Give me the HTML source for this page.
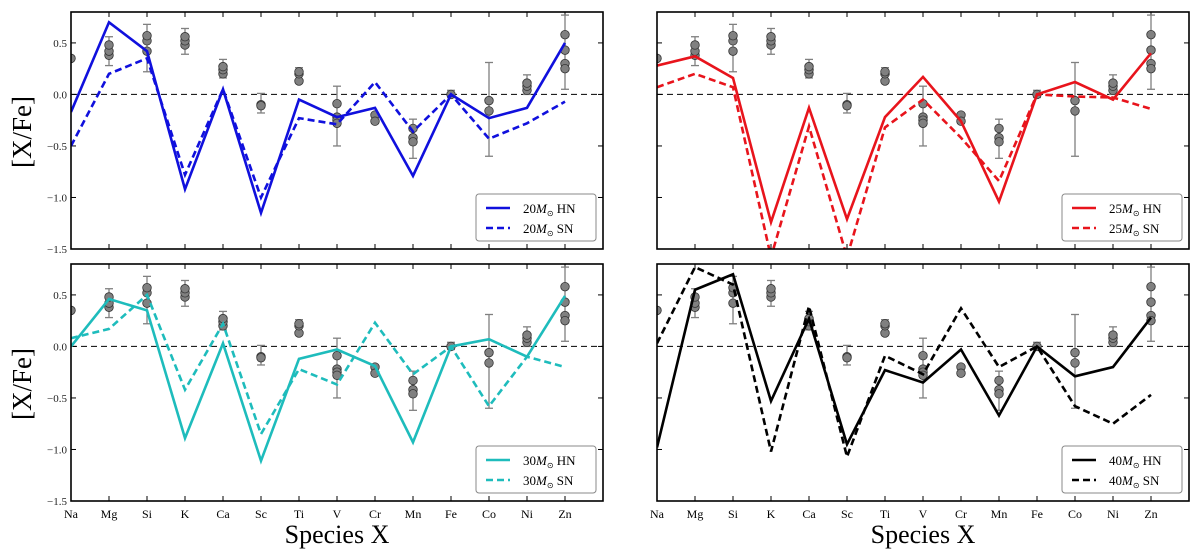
<!DOCTYPE html>
<html><head><meta charset="utf-8"><style>
body{margin:0;background:#fff;width:1200px;height:557px;overflow:hidden}
svg{display:block;font-family:"Liberation Serif",serif}
</style></head><body>
<svg id="fig" width="1200" height="557" xmlns="http://www.w3.org/2000/svg"></svg>
<script>
const species=["Na","Mg","Si","K","Ca","Sc","Ti","V","Cr","Mn","Fe","Co","Ni","Zn"];
const yTicks=[0.5,0.0,-0.5,-1.0,-1.5];
const yTickLabels=["0.5","0.0","\u22120.5","\u22121.0","\u22121.5"];
const hn20=[-0.17,0.7,0.42,-0.92,0.05,-1.15,-0.05,-0.22,-0.13,-0.79,0.0,-0.23,-0.13,0.5];
const sn20=[-0.5,0.2,0.35,-0.78,0.05,-1.0,-0.23,-0.29,0.12,-0.36,0.0,-0.43,-0.28,-0.07];
const hn25=[0.28,0.37,0.16,-1.24,-0.13,-1.21,-0.22,0.17,-0.26,-1.04,0.0,0.12,-0.05,0.4];
const sn25=[0.07,0.2,0.07,-1.58,-0.31,-1.58,-0.32,-0.05,-0.42,-0.84,0.0,-0.02,-0.03,-0.14];
const hn30=[0.0,0.46,0.35,-0.89,0.03,-1.11,-0.12,-0.03,-0.19,-0.93,0.0,0.07,-0.1,0.49];
const sn30=[0.08,0.17,0.5,-0.42,0.22,-0.85,-0.22,-0.37,0.23,-0.27,0.0,-0.58,-0.1,-0.2];
const hn40=[-0.98,0.55,0.7,-0.53,0.27,-0.95,-0.23,-0.35,-0.03,-0.67,0.0,-0.29,-0.2,0.28];
const sn40=[0.03,0.77,0.6,-1.02,0.39,-1.07,-0.09,-0.27,0.37,-0.2,0.0,-0.58,-0.75,-0.47];
const obsVals=[[0.35],[0.38,0.42,0.48],[0.42,0.52,0.57],[0.48,0.52,0.56],[0.2,0.24,0.27],[-0.1,-0.11],[0.13,0.2,0.22],[-0.09,-0.22,-0.25,-0.28],[-0.2,-0.26],[-0.33,-0.42,-0.46],[0.0],[-0.06,-0.16],[0.04,0.08,0.11],[0.58,0.43,0.3,0.25]];
const obsLo=[0.35,0.28,0.22,0.39,0.16,-0.18,0.12,-0.5,-0.28,-0.62,-0.03,-0.6,0.0,0.05];
const obsHi=[0.35,0.56,0.68,0.64,0.34,0.01,0.26,0.08,-0.18,-0.24,0.04,0.31,0.19,0.77];
const panels=[
 {x0:71,y0:12,hn:hn20,sn:sn20,col:"#1010dd",lab:"20",xl:false,yl:true,lg:[476,194]},
 {x0:657,y0:12,hn:hn25,sn:sn25,col:"#e8141c",lab:"25",xl:false,yl:false,lg:[1062,194]},
 {x0:71,y0:264,hn:hn30,sn:sn30,col:"#1ebcbc",lab:"30",xl:true,yl:true,lg:[476,446]},
 {x0:657,y0:264,hn:hn40,sn:sn40,col:"#000000",lab:"40",xl:true,yl:false,lg:[1062,446]}];
const W=532,H=237,YMIN=-1.5,YMAX=0.8;
const NS="http://www.w3.org/2000/svg";
const fig=document.getElementById("fig");
function mk(tag,at,parent){const e=document.createElementNS(NS,tag);for(const k in at)e.setAttribute(k,at[k]);(parent||fig).appendChild(e);return e;}
panels.forEach((p,pi)=>{
 const xs=i=>p.x0+i*W/14;
 const ys=v=>p.y0+(YMAX-v)/(YMAX-YMIN)*H;
 const g=mk("g",{});
 
 
 const cid="clip"+pi;
 const cp=mk("clipPath",{id:cid},g);mk("rect",{x:p.x0,y:p.y0,width:W,height:H},cp);
 // zero line
 const z=mk("line",{x1:p.x0,x2:p.x0+W,y1:ys(0),y2:ys(0),stroke:"#000","stroke-width":1,"stroke-dasharray":"6,4"},g);
 
 
 // ticks
 species.forEach((s,i)=>{
  if(i>0){mk("line",{x1:xs(i),x2:xs(i),y1:p.y0+H,y2:p.y0+H-5,stroke:"#000"},g);
  mk("line",{x1:xs(i),x2:xs(i),y1:p.y0,y2:p.y0+5,stroke:"#000"},g);}
  if(p.xl){const t=mk("text",{x:xs(i),y:p.y0+H+17,"text-anchor":"middle","font-size":12},g);t.textContent=s;
   
   }
 });
 yTicks.forEach((v,k)=>{
  mk("line",{x1:p.x0,x2:p.x0+5,y1:ys(v),y2:ys(v),stroke:"#000"},g);
  mk("line",{x1:p.x0+W,x2:p.x0+W-5,y1:ys(v),y2:ys(v),stroke:"#000"},g);
  if(p.yl){const t=mk("text",{x:p.x0-4,y:ys(v)+4,"text-anchor":"end","font-size":11,fill:"#222"},g);t.textContent=yTickLabels[k];
   
   }
 });
 // obs
 const og=mk("g",{"clip-path":"url(#"+cid+")"},g);
 
 
 obsVals.forEach((arr,i)=>{
  if(obsHi[i]>obsLo[i]){mk("line",{x1:xs(i),x2:xs(i),y1:ys(obsLo[i]),y2:ys(obsHi[i]),stroke:"#808080","stroke-width":1.3},og);
   [obsLo[i],obsHi[i]].forEach(v=>mk("line",{x1:xs(i)-4,x2:xs(i)+4,y1:ys(v),y2:ys(v),stroke:"#808080","stroke-width":1.3},og));}
  arr.forEach(v=>{const c=mk("circle",{cx:xs(i),cy:ys(v),r:4.3,fill:"#808080",stroke:"#333","stroke-width":0.8},og);
   
   });
 });
 // model lines
 const lg=mk("g",{"clip-path":"url(#"+cid+")"},g);
 [["hn",p.hn,""],["sn",p.sn,"7,4"]].forEach(([nm,vals,da])=>{
  const pts=vals.map((v,i)=>xs(i)+","+ys(v)).join(" ");
  const l=mk("polyline",{points:pts,fill:"none",stroke:p.col,"stroke-width":2.6,"stroke-dasharray":da,"stroke-linejoin":"miter"},lg);
  
  
 });
 const fr=mk("rect",{x:p.x0,y:p.y0,width:W,height:H,fill:"none",stroke:"#000","stroke-width":1.6},g);
 
 
 // legend
 const [lx,ly]=p.lg;
 const L=mk("g",{},g);
 
 
 mk("rect",{x:lx,y:ly,width:120,height:47,rx:3,fill:"#fff",stroke:"#888","stroke-width":1},L);
 [["HN",""],["SN","7,4"]].forEach(([t,da],k)=>{
  const yy=ly+14+k*20;
  mk("line",{x1:lx+10,x2:lx+34,y1:yy,y2:yy,stroke:p.col,"stroke-width":2.6,"stroke-dasharray":da},L);
  const tx=mk("text",{x:lx+47,y:yy+5,"font-size":13},L);
  tx.innerHTML=p.lab+'<tspan font-style="italic">M</tspan><tspan font-size="8" dy="3">\u2299</tspan><tspan dy="-3"> '+t+'</tspan>';
  
  
 });
});
[[22,132],[22,384]].forEach(([x,y])=>{const t=mk("text",{x:x,y:y,"font-size":27,"text-anchor":"middle",transform:"rotate(-90 "+x+" "+y+")",dy:"9"});t.textContent="[X/Fe]";
 
 });
[337,923].forEach(x=>{const t=mk("text",{x:x,y:543,"font-size":26,"text-anchor":"middle"});t.textContent="Species X";
 
 });
</script>
</body></html>
